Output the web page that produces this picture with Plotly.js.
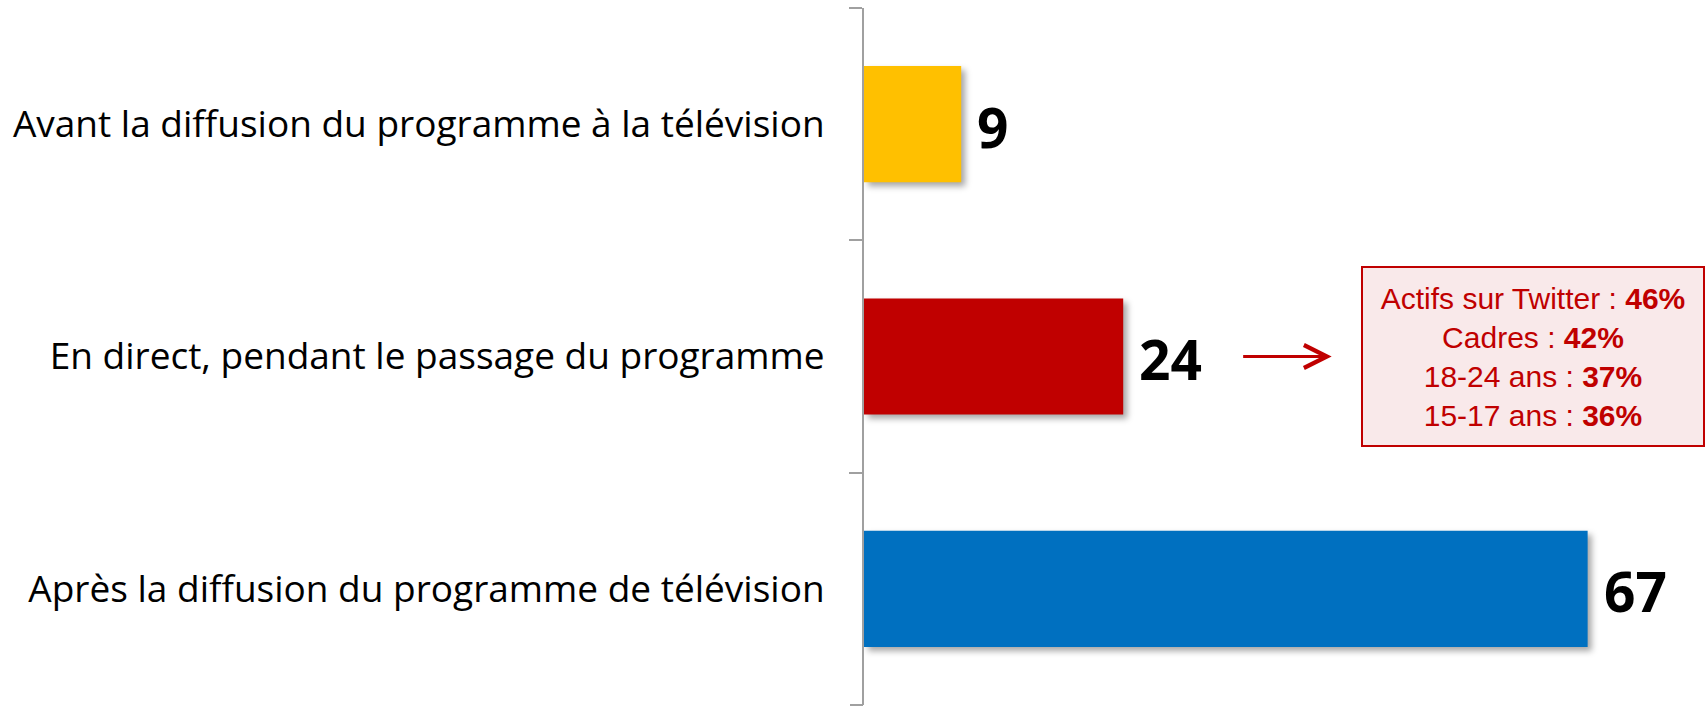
<!DOCTYPE html>
<html>
<head>
<meta charset="utf-8">
<script src="https://cdn.plot.ly/plotly-3.0.1.min.js"></script>
<style>
  body { margin: 0; background: #fff; }
  #plot { width: 1706px; height: 707px; }
  /* soft drop shadow under the bars */
  .barlayer .point path { filter: drop-shadow(4px 4px 3px rgba(0,0,0,0.35)); }
</style>
</head>
<body>
<div id="plot"></div>
<script>
var categories = [
  'Avant la diffusion du programme à la télévision',
  'En direct, pendant le passage du programme',
  'Après la diffusion du programme de télévision'
];
var values = [9, 24, 67];
var barColors = ['#FFC000', '#C00000', '#0070C0'];

var noteLines = ['Actifs sur Twitter : ', 'Cadres : ', '18-24 ans : ', '15-17 ans : '];
var noteValues = [46, 42, 37, 36];

var trace1 = {
  type: 'bar',
  orientation: 'h',
  y: categories,
  x: values,
  width: 0.5,
  marker: { color: barColors },
  hoverinfo: 'none'
};

var data = [trace1];

// value labels next to each bar
var annotations = values.map(function (v, i) {
  return {
    x: v, y: categories[i], xref: 'x', yref: 'y',
    text: '<b>' + v + '</b>',
    showarrow: false,
    xanchor: 'left', yanchor: 'middle',
    xshift: 14, yshift: -2,
    font: { family: 'Open Sans, sans-serif', size: 55, color: '#000' }
  };
});

// arrow pointing at the note box
annotations.push({
  x: 43.3, y: categories[1], xref: 'x', yref: 'y',
  ax: -90, ay: 0,
  text: '',
  showarrow: true,
  arrowhead: 5, arrowsize: 1.6, arrowwidth: 2.8,
  arrowcolor: '#C00000'
});

// note box
annotations.push({
  x: 46.0, y: categories[1], xref: 'x', yref: 'y',
  xanchor: 'left', yanchor: 'middle',
  text: noteLines.map(function (t, i) { return t + '<b>' + noteValues[i] + '%</b>'; }).join('<br>'),
  showarrow: false,
  align: 'center',
  width: 338, height: 175,
  bgcolor: '#F9E9EA',
  bordercolor: '#C00000',
  borderwidth: 2,
  borderpad: 1,
  font: { family: 'Liberation Sans, Arial, sans-serif', size: 30, color: '#C00000' }
});

var layout = {
  width: 1706,
  height: 707,
  margin: { l: 864, r: 0, t: 8, b: 2 },
  paper_bgcolor: '#fff',
  plot_bgcolor: '#fff',
  showlegend: false,
  xaxis: {
    range: [0, 77.96],
    visible: false,
    fixedrange: true
  },
  yaxis: {
    autorange: 'reversed',
    showline: true,
    linecolor: '#A0A0A0',
    linewidth: 2,
    ticks: 'outside',
    tickson: 'boundaries',
    ticklen: 13,
    tickwidth: 2,
    tickcolor: '#A0A0A0',
    ticklabelstandoff: 30,
    showgrid: false,
    tickfont: { family: 'Open Sans, sans-serif', size: 37, color: '#000' },
    fixedrange: true
  },
  // closing tick at the bottom of the axis
  shapes: [{
    type: 'line', xref: 'paper', yref: 'paper',
    xsizemode: 'pixel', xanchor: 0, x0: -14, x1: -1,
    y0: 0, y1: 0,
    line: { color: '#A0A0A0', width: 2 }
  }],
  annotations: annotations
};

Plotly.newPlot('plot', data, layout, { displayModeBar: false, staticPlot: true });
</script>
</body>
</html>
